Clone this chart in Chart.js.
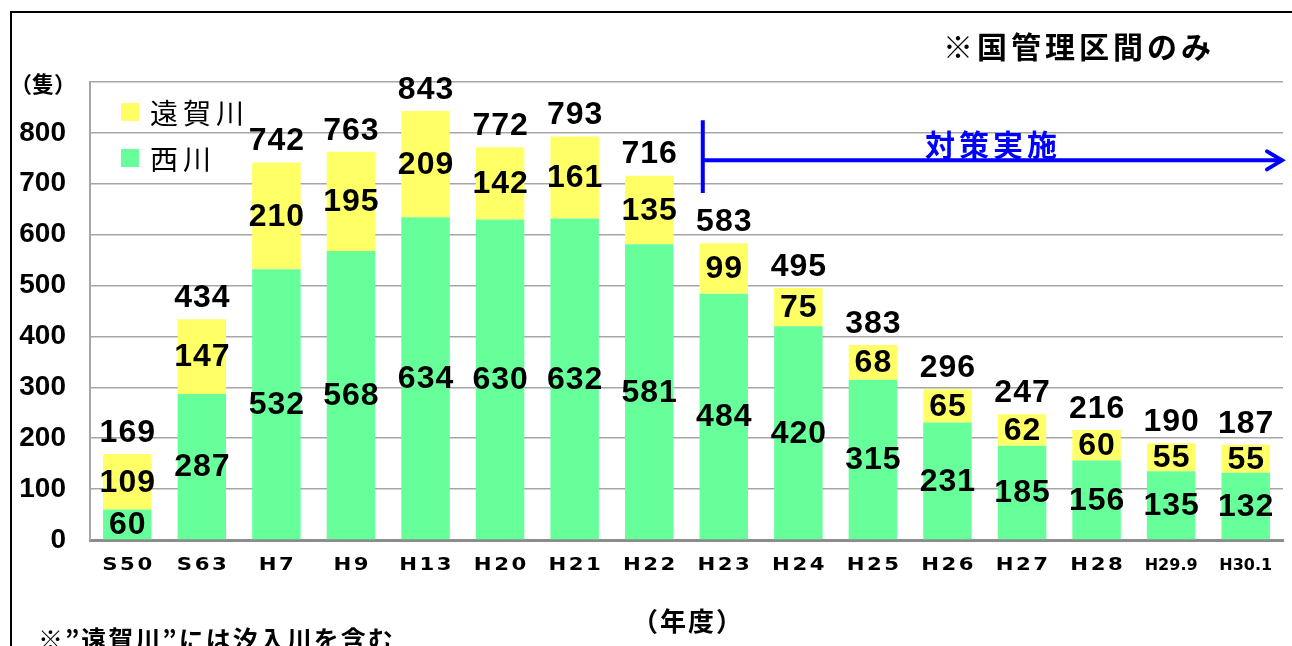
<!DOCTYPE html>
<html lang="ja">
<head>
<meta charset="utf-8">
<script src="https://cdn.jsdelivr.net/npm/chart.js@4"></script>
<style>
html, body { margin: 0; padding: 0; background: #fff; }
</style>
</head>
<body>
<canvas id="shipChart" width="1292" height="646"></canvas>
<script>
// 年度ごとの隻数 (国管理区間のみ)
const years = ['S50', 'S63', 'H7', 'H9', 'H13', 'H20', 'H21', 'H22', 'H23', 'H24', 'H25', 'H26', 'H27', 'H28', 'H29.9', 'H30.1'];
const nishikawa = [60, 287, 532, 568, 634, 630, 632, 581, 484, 420, 315, 231, 185, 156, 135, 132];
const ongagawa = [109, 147, 210, 195, 209, 142, 161, 135, 99, 75, 68, 65, 62, 60, 55, 55];
const yTickMax = 800;

const GREEN = '#66FF99';
const YELLOW = '#FFFF66';
const JP = '"Noto Sans CJK JP", sans-serif';

// 棒の中と上に数値を描く
const barLabels = {
    id: 'barLabels',
    afterDatasetsDraw(chart) {
        const ctx = chart.ctx;
        const green = chart.getDatasetMeta(0).data;
        const yellow = chart.getDatasetMeta(1).data;
        ctx.save();
        ctx.font = 'bold 32px "Liberation Sans", Arial, sans-serif';
        ctx.letterSpacing = '1px';
        ctx.fillStyle = '#000';
        ctx.textAlign = 'center';
        ctx.textBaseline = 'middle';
        green.forEach((bar, i) => {
            const yb = yellow[i];
            ctx.fillText(String(nishikawa[i]), bar.x + 0.5, (bar.y + bar.base) / 2 + 1);
            ctx.fillText(String(ongagawa[i]), yb.x + 0.5, (yb.y + yb.base) / 2 + 1);
            ctx.fillText(String(nishikawa[i] + ongagawa[i]), yb.x + 0.5, yb.y - 21);
        });
        ctx.restore();
    }
};

// 枠、凡例、x軸ラベル、注記、矢印
const decorations = {
    id: 'decorations',
    afterDraw(chart) {
        const ctx = chart.ctx;
        const xs = chart.scales.x;
        const ys = chart.scales.y;
        ctx.save();

        // 外枠
        ctx.strokeStyle = '#000';
        ctx.lineWidth = 2;
        ctx.beginPath();
        ctx.moveTo(11, 646);
        ctx.lineTo(11, 12);
        ctx.lineTo(1292, 12);
        ctx.stroke();

        // x軸ラベル (横長の太字)
        ctx.fillStyle = '#000';
        ctx.textAlign = 'center';
        ctx.textBaseline = 'middle';
        years.forEach((y, i) => {
            const px = xs.getPixelForValue(i);
            ctx.save();
            if (y.length > 3) {
                ctx.font = 'bold 16px "DejaVu Sans", sans-serif';
                ctx.letterSpacing = '0px';
                ctx.fillText(y, px, 566);
            } else {
                ctx.font = 'bold 17px "DejaVu Sans", sans-serif';
                ctx.letterSpacing = '2px';
                ctx.translate(px + 1.2, 566);
                ctx.scale(1.25, 1);
                ctx.fillText(y, 0, 0);
            }
            ctx.restore();
        });

        // 凡例 (遠賀川が上)
        const legendRows = [
            { text: chart.data.datasets[1].label, color: YELLOW, y: 112 },
            { text: chart.data.datasets[0].label, color: GREEN, y: 158 }
        ];
        ctx.font = '28px ' + JP;
        ctx.letterSpacing = '5px';
        ctx.textAlign = 'left';
        legendRows.forEach(r => {
            ctx.fillStyle = r.color;
            ctx.fillRect(121, r.y - 9, 18, 18);
            ctx.fillStyle = '#000';
            ctx.fillText(r.text, 150, r.y + 1);
        });

        // 単位・注記
        ctx.font = 'bold 22px ' + JP;
        ctx.letterSpacing = '0px';
        ctx.textAlign = 'center';
        ctx.fillText('（隻）', 43, 84);

        ctx.font = 'bold 30px ' + JP;
        ctx.letterSpacing = '4px';
        ctx.textAlign = 'left';
        ctx.fillText('※国管理区間のみ', 943, 47);

        ctx.font = 'bold 26px ' + JP;
        ctx.letterSpacing = '2px';
        ctx.textAlign = 'center';
        ctx.fillText('（年度）', 688, 621);

        ctx.font = 'bold 25px ' + JP;
        ctx.textAlign = 'left';
        ctx.letterSpacing = '2px';
        ctx.fillText('※”遠賀川”には汐入川を含む', 38, 639);

        // 対策実施の矢印
        const ax = xs.getPixelForValue(8) - 21;
        const ay = ys.getPixelForValue(746);
        const ex = chart.chartArea.right - 1;
        ctx.strokeStyle = '#0000FF';
        ctx.lineWidth = 4;
        ctx.lineCap = 'butt';
        ctx.beginPath();
        ctx.moveTo(ax, ys.getPixelForValue(825));
        ctx.lineTo(ax, ys.getPixelForValue(682));
        ctx.moveTo(ax, ay);
        ctx.lineTo(ex, ay);
        ctx.stroke();
        ctx.lineCap = 'round';
        ctx.beginPath();
        ctx.moveTo(ex - 15, ay - 9);
        ctx.lineTo(ex, ay);
        ctx.lineTo(ex - 15, ay + 9);
        ctx.stroke();

        ctx.fillStyle = '#0000FF';
        ctx.font = 'bold 30px ' + JP;
        ctx.letterSpacing = '4px';
        ctx.textAlign = 'left';
        ctx.fillText('対策実施', 925, 145);

        ctx.restore();
    }
};

const ctx = document.getElementById('shipChart').getContext('2d');
const shipChart = new Chart(ctx, {
    type: 'bar',
    data: {
        labels: years,
        datasets: [{
            label: '西川',
            data: nishikawa,
            backgroundColor: GREEN,
            borderWidth: 0,
            barPercentage: 0.65,
            categoryPercentage: 1
        }, {
            label: '遠賀川',
            data: ongagawa,
            backgroundColor: YELLOW,
            borderWidth: 0,
            barPercentage: 0.65,
            categoryPercentage: 1
        }]
    },
    options: {
        responsive: false,
        animation: false,
        layout: {
            padding: { left: 0, right: 9, top: 82, bottom: 0 }
        },
        plugins: {
            legend: { display: false },
            tooltip: { enabled: false }
        },
        scales: {
            x: {
                stacked: true,
                grid: { display: false },
                border: { color: '#8c8c8c', width: 3 },
                ticks: { display: false },
                afterFit(scale) { scale.height = 106; }
            },
            y: {
                stacked: true,
                min: 0,
                max: 900,
                grid: { color: '#a6a6a6', lineWidth: 1.5, drawTicks: false },
                border: { color: '#a6a6a6', width: 2 },
                ticks: {
                    stepSize: 100,
                    padding: 24,
                    color: '#000',
                    font: { family: '"Liberation Sans", Arial, sans-serif', size: 28, weight: 'bold' },
                    callback: v => (v <= yTickMax ? v : '')
                },
                afterFit(scale) { scale.width = 90; }
            }
        }
    },
    plugins: [barLabels, decorations]
});
</script>
</body>
</html>
